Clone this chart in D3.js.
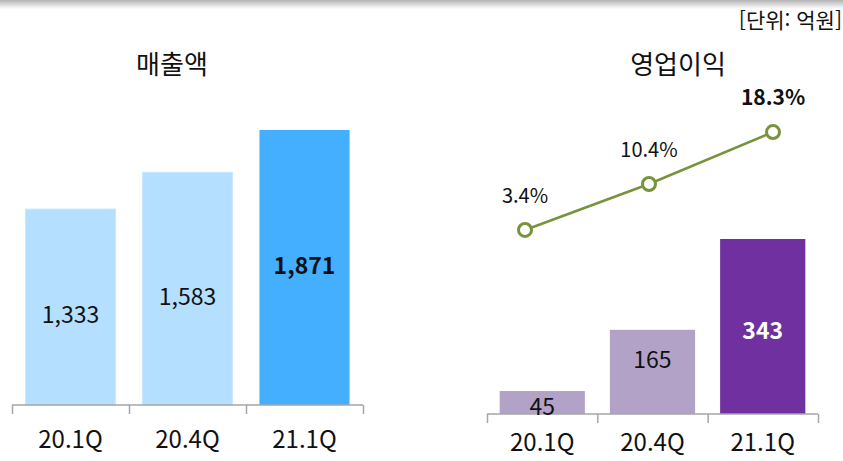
<!DOCTYPE html>
<html lang="ko">
<head>
<meta charset="UTF-8">
<script src="https://d3js.org/d3.v7.min.js"></script>
<style>
  body { margin:0; background:#fff; }
  svg { display:block; font-family:"Noto Sans CJK KR","Noto Sans",sans-serif; }
</style>
<title>매출액 / 영업이익</title>
</head>
<body>
<svg width="843" height="461"></svg>
<script>
// data
const quarters = ["20.1Q", "20.4Q", "21.1Q"];
const sales = [1333, 1583, 1871];
const profit = [45, 165, 343];
const margin = [3.4, 10.4, 18.3];

const width = 843, height = 461;
const svg = d3.select("svg");

// top shadow strip
const defs = svg.append("defs");
const grad = defs.append("linearGradient").attr("id", "topShade")
  .attr("x1", 0).attr("y1", 0).attr("x2", 0).attr("y2", 1);
grad.append("stop").attr("offset", "0%").attr("stop-color", "#b4b4b4");
grad.append("stop").attr("offset", "100%").attr("stop-color", "#ffffff");
svg.append("rect").attr("x", 0).attr("y", 0).attr("width", width).attr("height", 9)
  .attr("fill", "url(#topShade)");

svg.append("text").attr("x", 842).attr("y", 28).attr("text-anchor", "end")
  .attr("font-size", 21).attr("fill", "#111").text("[단위: 억원]");

// ---------- 매출액 (left) ----------
const xL = d3.scaleBand().domain(quarters).range([12, 363]).paddingInner(0.23).paddingOuter(0.115);
const yL = d3.scaleLinear().domain([0, 1871]).range([405, 130]);

svg.append("text").attr("x", 172).attr("y", 74).attr("text-anchor", "middle")
  .attr("font-size", 26).attr("fill", "#111").text("매출액");

svg.append("g").selectAll("rect").data(sales).join("rect")
  .attr("x", (d, i) => xL(quarters[i]))
  .attr("y", d => yL(d))
  .attr("width", xL.bandwidth())
  .attr("height", d => yL(0) - yL(d))
  .attr("fill", (d, i) => i === 2 ? "#44aeff" : "#b5dfff")
  .attr("stroke", (d, i) => i === 2 ? "none" : "#c8e7ff")
  .attr("stroke-width", 1);

svg.append("g").selectAll("text").data(sales).join("text")
  .attr("x", (d, i) => xL(quarters[i]) + xL.bandwidth() / 2)
  .attr("y", (d, i) => (yL(d) + yL(0)) / 2 + (i === 2 ? 6 : 16))
  .attr("text-anchor", "middle")
  .attr("font-size", 23)
  .attr("font-weight", (d, i) => i === 2 ? "bold" : "normal")
  .attr("fill", "#111")
  .text(d => d3.format(",")(d));

const axL = svg.append("g").attr("transform", "translate(0,405)")
  .call(d3.axisBottom(d3.scaleLinear().domain([0, 3]).range([12, 363])).ticks(3).tickSize(9).tickFormat(""));
axL.selectAll("path,line").attr("stroke", "#a6a6a6").attr("stroke-width", 1.5);
axL.select(".domain").attr("d", "M12,0H363");

svg.append("g").selectAll("text").data(quarters).join("text")
  .attr("x", d => xL(d) + xL.bandwidth() / 2)
  .attr("y", 448)
  .attr("text-anchor", "middle").attr("font-size", 24).attr("fill", "#111")
  .text(d => d);

// ---------- 영업이익 (right) ----------
const xR = d3.scaleBand().domain(quarters).range([487, 818]).paddingInner(0.227).paddingOuter(0.115);
const yR = d3.scaleLinear().domain([0, 343]).range([414, 239]);

svg.append("text").attr("x", 678).attr("y", 74).attr("text-anchor", "middle")
  .attr("font-size", 26).attr("fill", "#111").text("영업이익");

svg.append("g").selectAll("rect").data(profit).join("rect")
  .attr("x", (d, i) => xR(quarters[i]))
  .attr("y", d => yR(d))
  .attr("width", xR.bandwidth())
  .attr("height", d => yR(0) - yR(d))
  .attr("fill", (d, i) => i === 2 ? "#7030a0" : "#b3a2c7");

const axR = svg.append("g").attr("transform", "translate(0,414)")
  .call(d3.axisBottom(d3.scaleLinear().domain([0, 3]).range([487, 818])).ticks(3).tickSize(9).tickFormat(""));
axR.selectAll("path,line").attr("stroke", "#a6a6a6").attr("stroke-width", 1.5);
axR.select(".domain").attr("d", "M487,0H818");

svg.append("g").selectAll("text").data(profit).join("text")
  .attr("x", (d, i) => xR(quarters[i]) + xR.bandwidth() / 2)
  .attr("y", (d, i) => (yR(d) + yR(0)) / 2 + [12, -4, 12][i])
  .attr("text-anchor", "middle")
  .attr("font-size", 23)
  .attr("font-weight", (d, i) => i === 2 ? "bold" : "normal")
  .attr("fill", (d, i) => i === 2 ? "#fff" : "#111")
  .text(d => d);

svg.append("g").selectAll("text").data(quarters).join("text")
  .attr("x", d => xR(d) + xR.bandwidth() / 2)
  .attr("y", 451)
  .attr("text-anchor", "middle").attr("font-size", 24).attr("fill", "#111")
  .text(d => d);

// margin line
const xP = d3.scalePoint().domain(quarters).range([525, 773]);
const yP = d3.scaleLinear().domain([0, 20]).range([252.3, 120.9]);

svg.append("path").datum(margin)
  .attr("fill", "none").attr("stroke", "#77933c").attr("stroke-width", 2.5)
  .attr("d", d3.line().x((d, i) => xP(quarters[i])).y(d => yP(d)));

svg.append("g").selectAll("circle").data(margin).join("circle")
  .attr("cx", (d, i) => xP(quarters[i]))
  .attr("cy", d => yP(d))
  .attr("r", 6.5)
  .attr("fill", "#fff").attr("stroke", "#77933c").attr("stroke-width", 3);

svg.append("g").selectAll("text").data(margin).join("text")
  .attr("x", (d, i) => xP(quarters[i]))
  .attr("y", d => yP(d) - 27)
  .attr("text-anchor", "middle")
  .attr("font-size", (d, i) => i === 2 ? 21 : 20)
  .attr("font-weight", (d, i) => i === 2 ? "bold" : "normal")
  .attr("fill", "#111")
  .text(d => d.toFixed(1) + "%");
</script>
</body>
</html>
